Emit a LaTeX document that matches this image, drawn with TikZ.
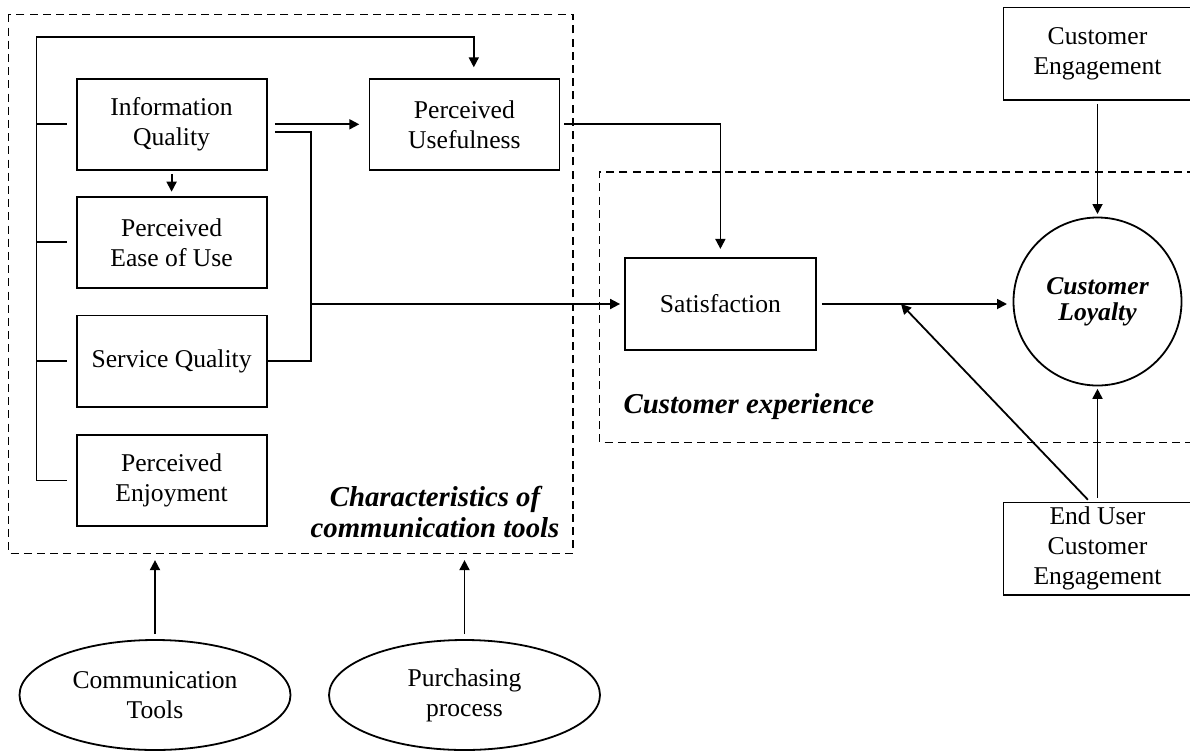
\documentclass[tikz,border=0pt]{standalone}
\usepackage{fontspec}
\setmainfont{Liberation Serif}
\usetikzlibrary{arrows.meta,shapes.geometric,calc}

\begin{document}
\begin{tikzpicture}[x=0.5pt,y=-0.5pt,
  line width=0.9pt,
  >={Triangle[length=5pt,width=5pt]},
  txt/.style={font=\fontsize{12.8pt}{15pt}\selectfont, align=center},
  box/.style={txt, draw, rectangle, inner sep=0pt,
              minimum width=95pt, minimum height=45.7pt},
  sidebox/.style={box, minimum width=94pt, minimum height=46.3pt},
  oval/.style={txt, draw, ellipse, inner sep=0pt,
               minimum width=135.5pt, minimum height=55pt},
  grouplabel/.style={font=\fontsize{14.4pt}{15.3pt}\selectfont\bfseries\itshape,
                     align=center, inner sep=0pt},
  groupframe/.style={line width=0.8pt, dash pattern=on 4pt off 2.6pt},
  conn/.style={->},
]
\useasboundingbox (0,0) rectangle (1190,751);

% ---- characteristics of communication tools ----
\draw[groupframe] (8.4,14.3) rectangle (573,553.3);
\coordinate (frameBottom) at (8.4,553.3);

\node[box] (iq)  at (171.6,124.3) {Information\\Quality};
\node[box] (peu) at (171.6,242.3) {Perceived\\Ease of Use};
\node[box] (sq)  at (171.6,361.2) {Service Quality};
\node[box] (pe)  at (171.6,480.5) {Perceived\\Enjoyment};
\node[box] (pu)  at (464.4,124.3) {Perceived\\Usefulness};

\node[grouplabel] (charlbl) at (435,512) {Characteristics of\\communication tools};

% ---- customer experience ----
\draw[groupframe] (1195,171.7) -- (599.5,171.7) -- (599.5,442.3) -- (1195,442.3);
\node[box, minimum width=95.6pt, minimum height=46.2pt] (sat) at (720.4,304) {Satisfaction};
\node[grouplabel, anchor=base west] (cxlbl) at (622.8,413) {Customer experience};

\node[draw, circle, inner sep=0pt, minimum size=84pt,
      font=\fontsize{12.8pt}{13pt}\selectfont\bfseries\itshape, align=center]
      (cl) at (1097.5,301.5) {Customer\\Loyalty};

% ---- right-hand drivers ----
\node[sidebox, minimum width=94pt] (ce) at (1097.5,53.7) {Customer\\Engagement};
\node[sidebox] (eu) at (1097.5,548.8) {End User\\Customer\\Engagement};

% ---- antecedents below ----
\node[oval] (ct) at (155,695) {Communication\\Tools};
\node[oval] (pp) at (464.5,695) {Purchasing\\process};

% ---- connectors ----
% shared trunk on the left with ticks to each characteristic
\coordinate (trunkTop) at (36.4,36.7);
\coordinate (trunkBot) at (trunkTop |- pe.west);
\draw[conn, shorten >=5.2pt] (trunkBot) -- (trunkTop) -| ([xshift=4.7pt]pu.north);
\foreach \n in {iq,peu,sq,pe}
  \draw (trunkTop |- \n.west) -- ([xshift=-4.5pt]\n.west);

\draw[conn, shorten <=3.7pt, shorten >=4.6pt] (iq.east) -- (pu.west);
\draw[conn, shorten <=1.5pt, shorten >=2pt] (iq.south) -- (peu.north);

% bus collecting information and service quality towards satisfaction
\coordinate (busTop) at ($(iq.east)+(43.3,7.4)$);
\draw ([xshift=3.7pt,yshift=-3.7pt]iq.east) -| (busTop |- sq.east) -- (sq.east);
\coordinate (busTap) at (busTop |- sat.west);
\draw[conn, shorten >=1.9pt] (busTap) -- (sat.west);

\draw[conn, shorten <=1.9pt, shorten >=4pt] (pu.east) -| (sat.north);

% towards loyalty
\draw[conn, shorten <=1.5pt, shorten >=1.3pt] (ce.south) -- (cl.north);
\draw[conn, shorten <=2.5pt, shorten >=2.8pt] (sat.east) -- (sat.east -| cl.west);
\coordinate (meet) at (901,304);
\draw[conn, shorten <=1.3pt] ([xshift=-3.9pt]eu.north) -- (meet);
\draw[conn, shorten <=2pt, shorten >=1.2pt] (eu.north) -- (cl.south);

% antecedents into the characteristics frame
\draw[conn, shorten <=2.5pt, shorten >=3.4pt] (ct.north) -- (ct.north |- frameBottom);
\draw[conn, shorten <=2.5pt, shorten >=3.4pt] (pp.north) -- (pp.north |- frameBottom);
\end{tikzpicture}
\end{document}
